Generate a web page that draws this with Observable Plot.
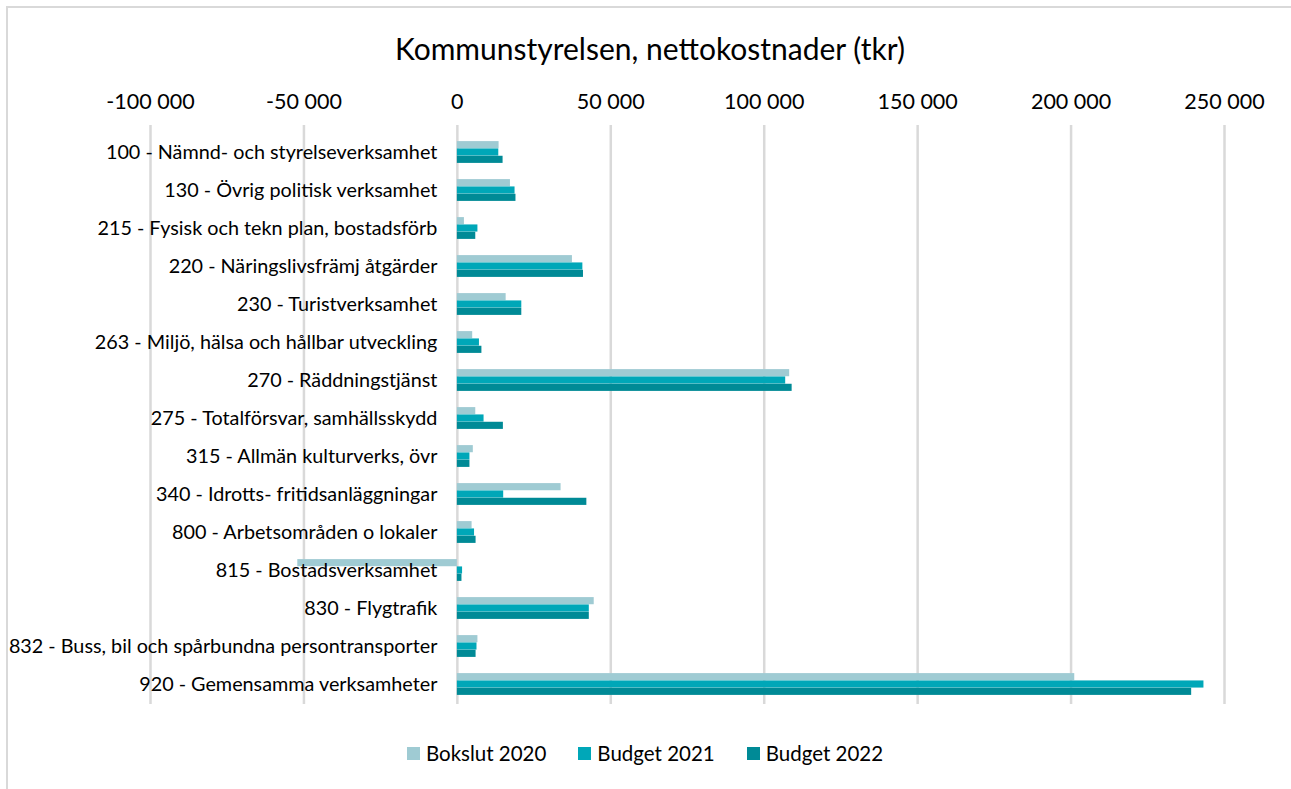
<!DOCTYPE html>
<html><head><meta charset="utf-8">
<script src="https://cdn.jsdelivr.net/npm/d3@7"></script>
<script src="https://cdn.jsdelivr.net/npm/@observablehq/plot@0.6"></script>
<style>
html,body{margin:0;padding:0;background:#fff;}
#wrap{position:relative;width:1291px;height:789px;overflow:hidden;font-family:Lato,"Open Sans",sans-serif;color:#000;}
#frame{position:absolute;left:6px;top:6px;width:1400px;height:900px;border:2px solid #d9d9d9;box-sizing:border-box;}
#title{position:absolute;left:0;width:1300px;top:28px;text-align:center;font-size:30px;line-height:40px;}
#chart{position:absolute;left:0;top:0;}
#legend{position:absolute;left:0;width:1290px;top:740px;display:flex;justify-content:center;gap:32px;font-size:20.5px;line-height:26px;}
.item{display:flex;align-items:center;gap:6px;}
.sw{width:13px;height:13px;display:inline-block;}
</style>
</head><body>
<div id="wrap">
<div id="frame"></div>
<div id="chart"></div>
<div id="title">Kommunstyrelsen, nettokostnader (tkr)</div>
<div id="legend"></div>
</div>
<script>
const categories = [
  "100 - Nämnd- och styrelseverksamhet",
  "130 - Övrig politisk verksamhet",
  "215 - Fysisk och tekn plan, bostadsförb",
  "220 - Näringslivsfrämj åtgärder",
  "230 - Turistverksamhet",
  "263 - Miljö, hälsa och hållbar utveckling",
  "270 - Räddningstjänst",
  "275 - Totalförsvar, samhällsskydd",
  "315 - Allmän kulturverks, övr",
  "340 - Idrotts- fritidsanläggningar",
  "800 - Arbetsområden o lokaler",
  "815 - Bostadsverksamhet",
  "830 - Flygtrafik",
  "832 - Buss, bil och spårbundna persontransporter",
  "920 - Gemensamma verksamheter"
];
const seriesNames = ["Bokslut 2020", "Budget 2021", "Budget 2022"];
const bokslut2020 = [13600, 17300, 2300, 37500, 15900, 5000, 108300, 6000, 5200, 33800, 4800, -52000, 44600, 6700, 201200];
const budget2021  = [13500, 18800, 6700, 40900, 21000, 7200, 107000, 8700, 4100, 15100, 5600, 1700, 43000, 6400, 243300];
const budget2022  = [14900, 19100, 6000, 41100, 21000, 8000, 109100, 15000, 4100, 42200, 6100, 1500, 43000, 6100, 239300];
const xTicks = [-100000, -50000, 0, 50000, 100000, 150000, 200000, 250000];
const colors = ["#9fcbd3", "#00a7b8", "#008a96"];

const seriesValues = [bokslut2020, budget2021, budget2022];
const data = [];
seriesValues.forEach((vals, si) => vals.forEach((v, ci) => data.push({category: categories[ci], series: seriesNames[si], value: v})));

const W = 1291, H = 789, mt = 131, mb = 85, ml = 150, mr = 67;
const step = (H - mt - mb) / categories.length;
const group = step * 0.576;
const barH = group / 3;
const off = (step - group) / 2;

const fmt = d3.formatLocale({decimal: ",", thousands: " ", grouping: [3], currency: ["", ""], minus: "-"}).format(",");

const marks = [
  Plot.ruleX(xTicks, {x: d => d, stroke: "#d9d9d9", strokeWidth: 2.5, insetTop: -6}),
  ...seriesNames.map((s, i) => Plot.barX(data.filter(d => d.series === s), {
    x: "value", y: "category", fill: colors[i],
    insetTop: off + i * barH, insetBottom: step - off - (i + 1) * barH
  })),
  Plot.text(categories, {x: d => 0, y: d => d, text: d => d, dx: -20, textAnchor: "end", fontSize: 19.8, fill: "#000"})
];

const chart = Plot.plot({
  width: W, height: H,
  marginTop: mt, marginBottom: mb, marginLeft: ml, marginRight: mr,
  style: {fontFamily: "Lato, 'Open Sans', sans-serif", fontSize: "21.5px", color: "#000", background: "transparent"},
  x: {domain: [-100000, 250000], axis: "top", ticks: xTicks, tickFormat: fmt, tickSize: 0, tickPadding: 23, label: null},
  y: {domain: categories, padding: 0, axis: null},
  marks
});
document.getElementById("chart").appendChild(chart);

const legend = document.getElementById("legend");
seriesNames.forEach((s, i) => {
  const it = document.createElement("div");
  it.className = "item";
  it.innerHTML = `<span class="sw" style="background:${colors[i]}"></span><span>${s}</span>`;
  legend.appendChild(it);
});
</script>
</body></html>
